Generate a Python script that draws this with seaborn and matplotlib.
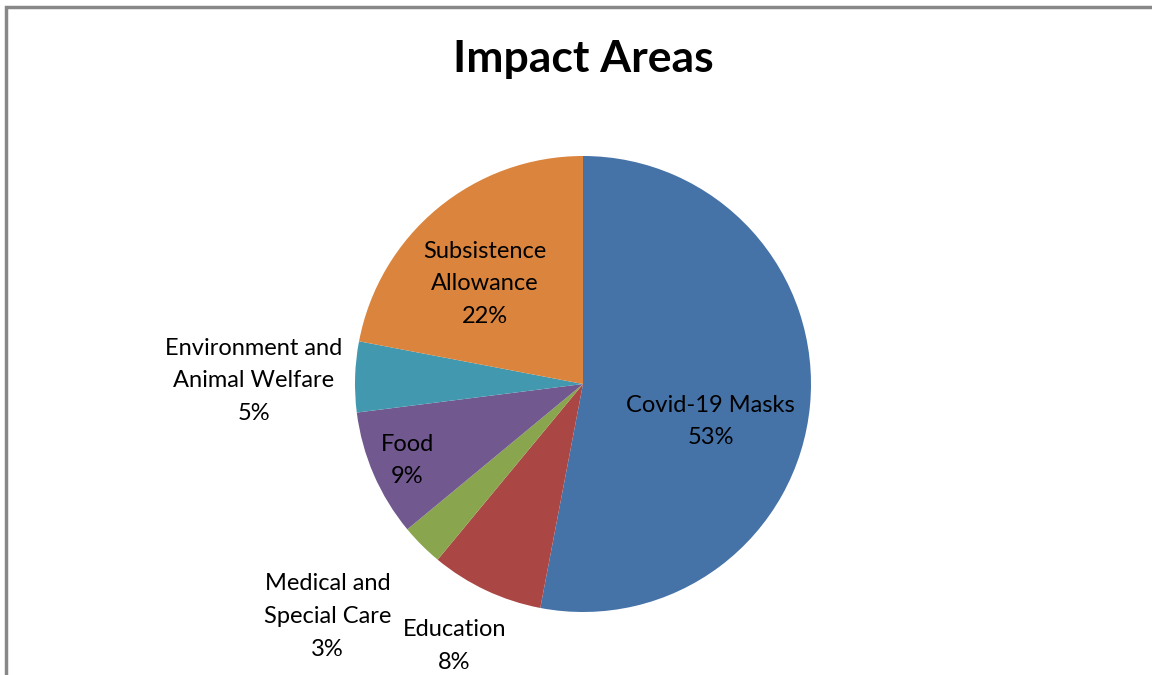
import matplotlib
matplotlib.use("Agg")
import matplotlib.pyplot as plt
from matplotlib.patches import Rectangle
import seaborn as sns

CATEGORIES = [
    "Covid-19 Masks",
    "Education",
    "Medical and\nSpecial Care",
    "Food",
    "Environment and\nAnimal Welfare",
    "Subsistence\nAllowance",
]
SHARES = [53, 8, 3, 9, 5, 22]
COLORS = ["#4572A7", "#AA4643", "#89A54E", "#71588F", "#4198AF", "#DB843D"]

# label centres in pie units (radius = 1)
LABEL_POS = [
    (0.56, -0.165),
    (-0.565, -1.15),
    (-1.12, -1.02),
    (-0.77, -0.335),
    (-1.445, 0.015),
    (-0.43, 0.44),
]

sns.set_theme(style="white")
plt.rcParams["font.family"] = ["Lato", "DejaVu Sans"]

W, H = 1152, 675
fig = plt.figure(figsize=(W / 100, H / 100), dpi=100)
fig.patch.set_facecolor("white")

cx, cy, r = 583, 384, 228
ax = fig.add_axes([(cx - r) / W, (H - cy - r) / H, 2 * r / W, 2 * r / H])
ax.pie(
    SHARES,
    colors=sns.color_palette(COLORS),
    startangle=90,
    counterclock=False,
    radius=1,
    wedgeprops=dict(linewidth=0),
)
ax.set_xlim(-1, 1)
ax.set_ylim(-1, 1)
ax.set_aspect("equal")
ax.axis("off")

for name, share, (x, y) in zip(CATEGORIES, SHARES, LABEL_POS):
    ax.text(x, y, f"{name}\n{share}%", ha="center", va="center",
            fontsize=17, color="black", linespacing=1.68, clip_on=False)

fig.text(cx / W, 1 - 59 / H, "Impact Areas", ha="center", va="center",
         fontsize=32, fontweight="bold", color="black")

fig.patches.append(Rectangle((5.5 / W, -0.2), 1.2, 1.2 - 6.5 / H,
                             transform=fig.transFigure, fill=False,
                             edgecolor="#888888", linewidth=2.5, clip_on=False))

fig.savefig("out.png", dpi=100)
plt.close(fig)
